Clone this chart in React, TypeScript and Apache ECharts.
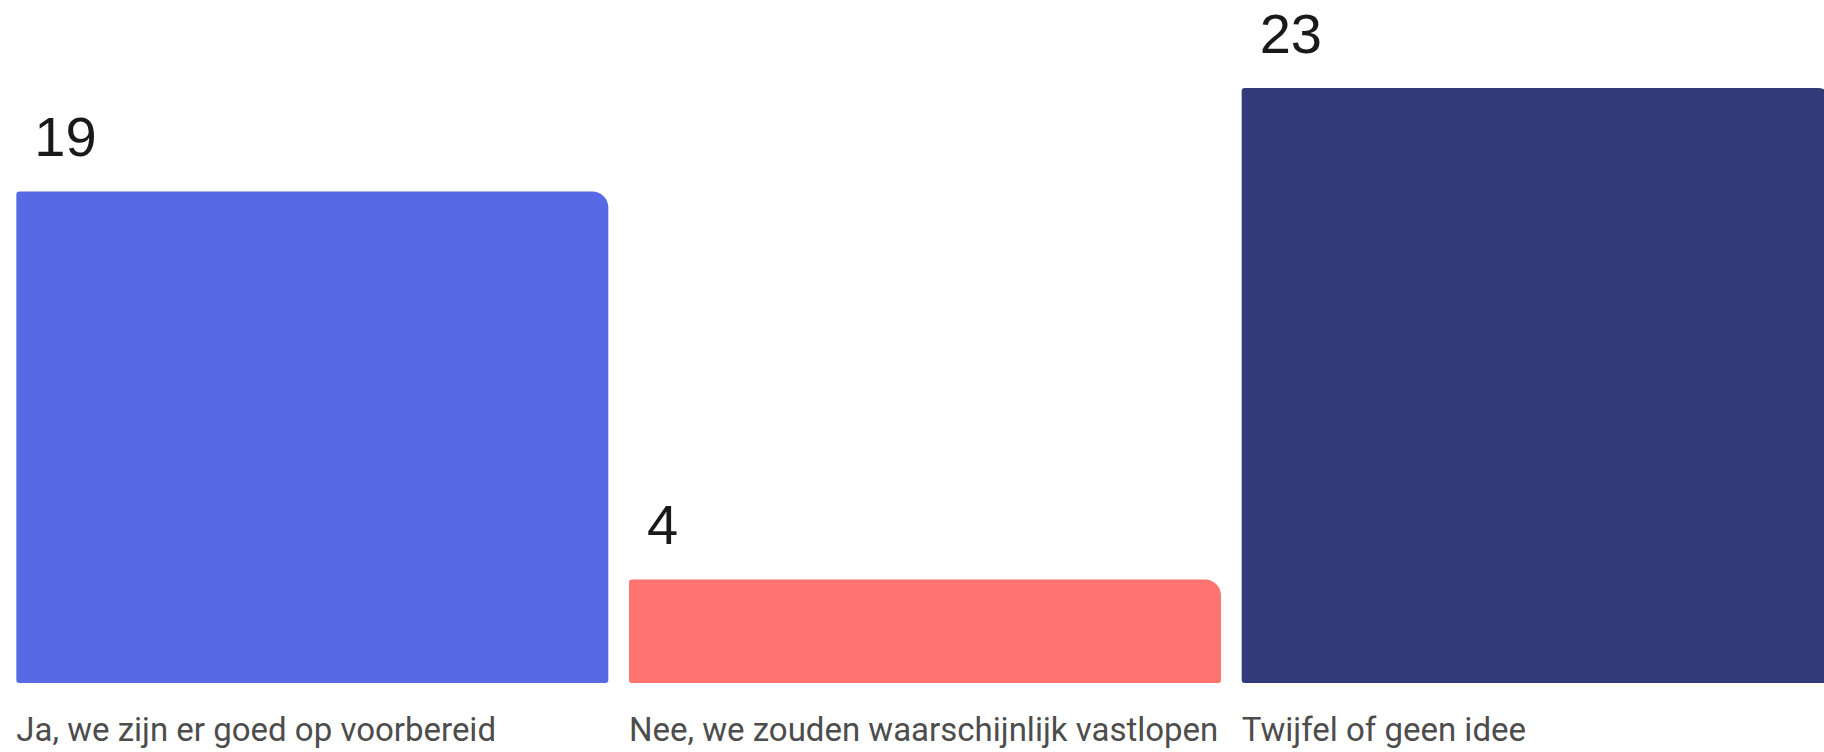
import React, { useEffect, useRef } from "react";
import * as echarts from "echarts";

const categories = [
  "Ja, we zijn er goed op voorbereid",
  "Nee, we zouden waarschijnlijk vastlopen",
  "Twijfel of geen idee",
];
const values = [19, 4, 23];
const colors = ["#5869E5", "#FF7370", "#323A79"];

export default function App() {
  const ref = useRef<HTMLDivElement>(null);
  useEffect(() => {
    if (!ref.current) return;
    const chart = echarts.init(ref.current, undefined, { renderer: "svg" });
    chart.setOption({
      animation: false,
      backgroundColor: "#ffffff",
      grid: {
        left: 6,
        width: 1838,
        top: 88,
        bottom: 69,
        containLabel: false,
        outerBoundsMode: "none",
      },
      xAxis: {
        type: "category",
        data: categories,
        axisLine: { show: false },
        axisTick: { show: false },
        axisLabel: {
          interval: 0,
          margin: 30,
          align: "center",
          verticalAlign: "top",
          formatter: (v: string) => `{a|${v}}`,
          rich: {
            a: {
              width: 592,
              align: "left",
              fontFamily: "Roboto",
              fontSize: 33,
              color: "#4d4d4d",
            },
          },
        },
      },
      yAxis: {
        type: "value",
        min: 0,
        max: 23,
        show: false,
        splitLine: { show: false },
      },
      series: [
        {
          type: "bar",
          barWidth: 592,
          data: values.map((v, i) => ({
            value: v,
            itemStyle: { color: colors[i], borderRadius: [3, 16, 3, 3] },
          })),
          label: {
            show: true,
            position: [18, -27],
            align: "left",
            verticalAlign: "bottom",
            fontFamily: "Liberation Sans",
            fontSize: 56,
            color: "#1a1a1a",
          },
        },
      ],
    });
    return () => chart.dispose();
  }, []);
  return (
    <div
      ref={ref}
      style={{ position: "absolute", left: 0, top: 0, width: 1824, height: 752 }}
    />
  );
}
